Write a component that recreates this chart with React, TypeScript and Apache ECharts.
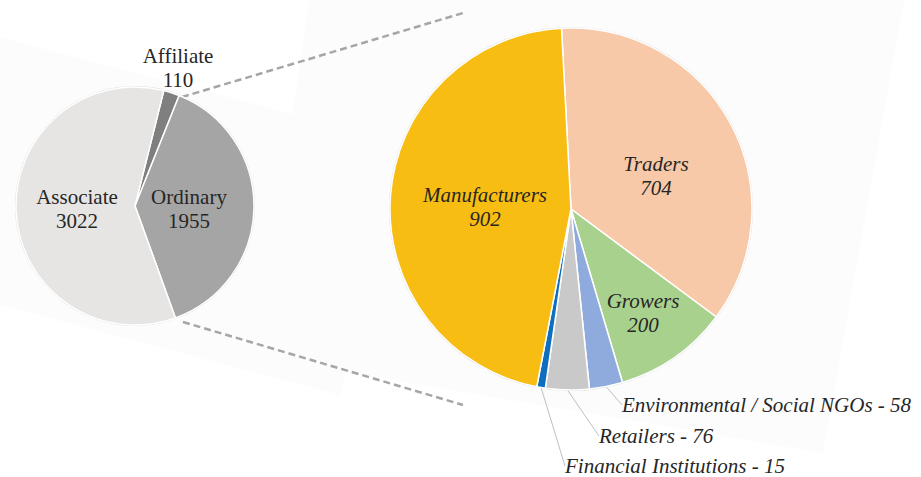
import React, { useEffect, useRef } from "react";
import * as echarts from "echarts";

const memberNames = ["Affiliate", "Ordinary", "Associate"];
const memberValues = [110, 1955, 3022];
const memberColors = ["#7f7f7f", "#a5a5a5", "#e6e5e4"];

const ordinaryNames = [
  "Traders",
  "Growers",
  "Environmental / Social NGOs",
  "Retailers",
  "Financial Institutions",
  "Manufacturers",
];
const ordinaryValues = [704, 200, 58, 76, 15, 902];
const ordinaryColors = ["#f7c9a9", "#a9d18e", "#8faadc", "#c9c9c9", "#0f6fbf", "#f8bd12"];
const outsideLabels = ["Environmental / Social NGOs", "Retailers", "Financial Institutions"];

// label anchor positions (layout only)
const leftLabelPos: [number, number, string][] = [
  [178, 68, "center"],
  [189, 209, "center"],
  [77, 209, "center"],
];
const rightLabelPos: [number, number, string][] = [
  [656, 176, "center"],
  [643, 313, "center"],
  [622, 405, "left"],
  [599, 436, "left"],
  [565, 466, "left"],
  [485, 207, "center"],
];

const FONT = "Times New Roman, Liberation Serif, serif";
const TEXT = "#262626";

export default function App() {
  const ref = useRef<HTMLDivElement>(null);
  useEffect(() => {
    if (!ref.current) return;
    const chart = echarts.init(ref.current, undefined, { renderer: "svg" });
    const option: any = {
      animation: false,
      backgroundColor: "#ffffff",
      textStyle: { fontFamily: FONT },
      graphic: [
        {
          type: "polygon",
          z: 0,
          silent: true,
          shape: { points: [[-10, 35], [405, 143], [340, 395], [-10, 302]] },
          style: { fill: "#fcfcfc" },
        },
        {
          type: "polygon",
          z: 0,
          silent: true,
          shape: { points: [[310, -5], [905, -5], [823, 453], [257, 357]] },
          style: { fill: "#fcfcfc" },
        },
        {
          type: "line",
          z: 1,
          silent: true,
          shape: { x1: 182, y1: 97, x2: 463, y2: 13 },
          style: { stroke: "#a6a6a6", lineWidth: 2.5, lineDash: [7, 4] },
        },
        {
          type: "line",
          z: 1,
          silent: true,
          shape: { x1: 183, y1: 322, x2: 463, y2: 405 },
          style: { stroke: "#a6a6a6", lineWidth: 2.5, lineDash: [7, 4] },
        },
        {
          type: "circle",
          z: 1,
          silent: true,
          shape: { cx: 135, cy: 206, r: 120 },
          style: { fill: "#dcdcdc" },
        },
        {
          type: "circle",
          z: 1,
          silent: true,
          shape: { cx: 571, cy: 209, r: 182 },
          style: { fill: "#dcdcdc" },
        },
      ],
      series: [
        {
          type: "pie",
          center: [135, 206],
          radius: [0, 119],
          startAngle: 76,
          clockwise: true,
          avoidLabelOverlap: false,
          silent: true,
          itemStyle: { borderColor: "#ffffff", borderWidth: 1.5 },
          label: {
            show: true,
            position: "inside",
            formatter: "{b}\n{c}",
            fontFamily: FONT,
            fontSize: 21,
            lineHeight: 24,
            color: TEXT,
          },
          labelLine: { show: false },
          labelLayout: (p: any) => {
            const pos = leftLabelPos[p.dataIndex];
            return { x: pos[0], y: pos[1], align: pos[2], verticalAlign: "middle" };
          },
          data: memberNames.map((n, i) => ({
            name: n,
            value: memberValues[i],
            itemStyle: { color: memberColors[i] },
          })),
        },
        {
          type: "pie",
          center: [571, 209],
          radius: [0, 181],
          startAngle: 93,
          clockwise: true,
          avoidLabelOverlap: false,
          silent: true,
          itemStyle: { borderColor: "#ffffff", borderWidth: 1.5 },
          label: {
            show: true,
            position: "inside",
            formatter: "{b}\n{c}",
            fontFamily: FONT,
            fontStyle: "italic",
            fontSize: 21,
            lineHeight: 24,
            color: TEXT,
          },
          labelLine: { show: false },
          labelLayout: (p: any) => {
            const pos = rightLabelPos[p.dataIndex];
            return { x: pos[0], y: pos[1], align: pos[2], verticalAlign: "middle" };
          },
          data: ordinaryNames.map((n, i) => {
            const outside = outsideLabels.indexOf(n) >= 0;
            return {
              name: n,
              value: ordinaryValues[i],
              itemStyle: { color: ordinaryColors[i] },
              label: outside
                ? { position: "outside", formatter: "{b} - {c}", lineHeight: 21 }
                : { position: "inside" },
              labelLine: outside
                ? {
                    show: true,
                    length: 10,
                    length2: 0,
                    smooth: false,
                    lineStyle: { color: "#bfbfbf", width: 1 },
                  }
                : { show: false },
            };
          }),
        },
      ],
    };
    chart.setOption(option);
    return () => chart.dispose();
  }, []);
  return (
    <div
      ref={ref}
      style={{ position: "fixed", left: 0, top: 0, width: 921, height: 477 }}
    />
  );
}
